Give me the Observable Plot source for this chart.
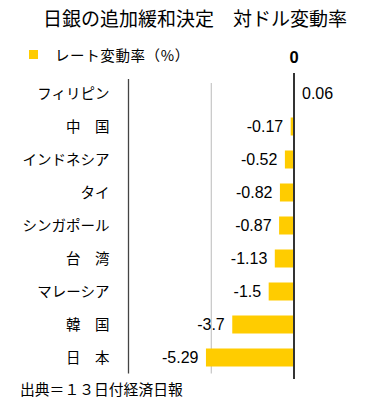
<!DOCTYPE html>
<html>
<head>
<meta charset="utf-8">
<script src="https://cdn.jsdelivr.net/npm/d3@7"></script>
<script src="https://cdn.jsdelivr.net/npm/@observablehq/plot@0.6"></script>
<style>
  body { margin: 0; background: #fff; font-family: "Liberation Sans", "Noto Sans CJK JP", sans-serif; }
  #wrap { position: relative; width: 370px; height: 412px; overflow: hidden; background: #fff; }
  #title { position: absolute; left: 43px; top: 7px; font-size: 19px; line-height: 26px; white-space: nowrap; color: #000; }
  #legend { position: absolute; left: 29px; top: 44px; height: 20px; display: flex; align-items: center; font-size: 14.5px; white-space: nowrap; font-family: "Noto Sans CJK JP", sans-serif; }
  #legend .sw { width: 9px; height: 9px; background: #FFCC00; margin-right: 17px; }
  #legend span { letter-spacing: 0.6px; }
  #chart { position: absolute; left: 0; top: 40px; }
  #caption { position: absolute; left: 20px; top: 380px; font-size: 14.8px; line-height: 20px; white-space: nowrap; }
</style>
</head>
<body>
<div id="wrap">
  <div id="title"></div>
  <div id="legend"><div class="sw"></div><span id="legtext"></span></div>
  <div id="chart"></div>
  <div id="caption"></div>
</div>
<script>
const titleText = "日銀の追加緩和決定　対ドル変動率";
const legendLabel = "レート変動率（%）";
const captionText = "出典＝１３日付経済日報";
const categories = ["フィリピン", "中　国", "インドネシア", "タイ", "シンガポール", "台　湾", "マレーシア", "韓　国", "日　本"];
const values = [0.06, -0.17, -0.52, -0.82, -0.87, -1.13, -1.5, -3.7, -5.29];
const xTicks = [0];
const gridLines = [-5];
const axisLine = [-10];

document.getElementById("title").textContent = titleText;
document.getElementById("legtext").textContent = legendLabel;
document.getElementById("caption").textContent = captionText;

const data = categories.map((c, i) => ({cat: c, value: values[i]}));

const chart = Plot.plot({
  width: 370,
  height: 345,
  marginLeft: 128,
  marginRight: 76.5,
  marginTop: 36.5,
  marginBottom: 11.5,
  style: {fontFamily: "'Liberation Sans', 'Noto Sans CJK JP', sans-serif", background: "transparent", overflow: "visible"},
  x: {domain: [-10, 0]},
  y: {domain: categories, padding: 0},
  marks: [
    Plot.ruleX(gridLines, {stroke: "#bbb", strokeWidth: 1, insetTop: 6.5}),
    Plot.ruleX(axisLine, {stroke: "#444", strokeWidth: 1.3, insetTop: 2.5}),
    Plot.barX(data, {x: "value", y: "cat", fill: "#FFCC00", insetTop: 7.5, insetBottom: 7.5}),
    Plot.ruleX(xTicks, {stroke: "#333", strokeWidth: 2, insetTop: -3.5, insetBottom: -5.5}),
    Plot.text(data.filter(d => d.value < 0), {x: "value", y: "cat", text: d => String(d.value), textAnchor: "end", dx: -8, fontSize: 16, fill: "#000"}),
    Plot.text(data.filter(d => d.value >= 0), {x: "value", y: "cat", text: d => String(d.value), textAnchor: "start", dx: 7, fontSize: 16, fill: "#000"}),
    Plot.axisY({tickSize: 0, tickPadding: 19, fontSize: 14.5, label: null, fill: "#000", fontFamily: "'Noto Sans CJK JP', sans-serif"}),
    Plot.axisX({anchor: "top", ticks: xTicks, tickSize: 0, tickPadding: 14, fontSize: 16.5, fontWeight: "bold", label: null, tickFormat: d => String(d), fill: "#000"})
  ]
});
document.getElementById("chart").appendChild(chart);
</script>
</body>
</html>
